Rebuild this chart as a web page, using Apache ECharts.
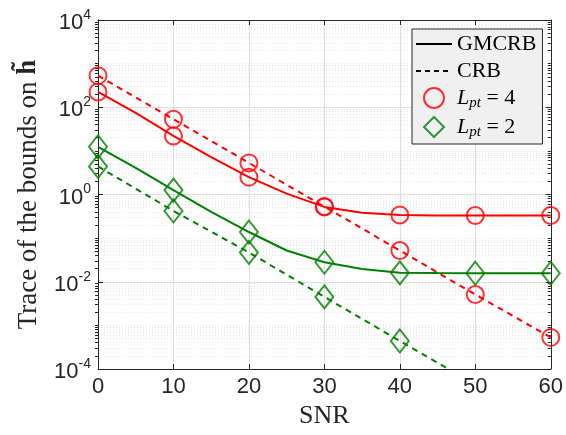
<!DOCTYPE html>
<html>
<head>
<meta charset="utf-8">
<title>Trace of the bounds</title>
<script src="https://cdn.jsdelivr.net/npm/echarts@6/dist/echarts.min.js"></script>
<style>html,body{margin:0;padding:0;background:#fff}#main{width:566px;height:435px}</style>
</head>
<body>
<div id="main"></div>
<script>
// SNR grid (dB) of the curves, markers are drawn every 10 dB
var snrLine = [0, 5, 10, 15, 20, 25, 30, 35, 40, 45, 50, 55, 60];
var snrMark = [0, 10, 20, 30, 40, 50, 60];
// GMCRB at every 5 dB
var gmcrbL4 = [224, 74, 22, 7.2, 2.5, 1.05, 0.52, 0.38, 0.34, 0.33, 0.33, 0.33, 0.33];
var gmcrbL2 = [12.4, 4.1, 1.26, 0.40, 0.138, 0.052, 0.028, 0.0195, 0.016, 0.0158, 0.0157, 0.0157, 0.0157];
// CRB, every 10 dB
var crbL4 = [530, 53, 5.3, 0.53, 0.052, 0.0051, 0.00053];
var crbL2 = [4.4, 0.42, 0.047, 0.0045, 0.00044, 0.000044, 0.0000044];
var yTicks = [1e-4, 1e-2, 1, 1e2, 1e4];

// minor ticks of the log axis: 2..9 x 10^k and the odd decades
var yMinor = [];
for (var k = -4; k < 4; k++) {
    for (var m = 1; m < 10; m++) {
        if (m === 1 && (k % 2 === 0)) continue;
        yMinor.push(Number((m * Math.pow(10, k)).toPrecision(3)));
    }
}

function pairs(xs, ys) {
    return xs.map(function (x, i) { return [x, ys[i]]; });
}
function marks(ys) {
    // keep the values that fall on the 10 dB markers
    return snrLine.map(function (x, i) { return [x, ys[i]]; })
        .filter(function (p) { return p[0] % 10 === 0; });
}

var axisCol = '#262626';
var sans = 'Liberation Sans';
var serif = 'Liberation Serif';

var myChart = echarts.init(document.getElementById('main'), null, {renderer: 'canvas'});
var option = {
    backgroundColor: '#fff',
    animation: false,
    grid: {left: 98, right: 14, top: 20, bottom: 66, show: false},
    legend: {
        orient: 'vertical',
        left: 412, top: 29,
        data: ['GMCRB', 'CRB', 'L4', {name: 'L2', icon: 'path://M9,0L18,9L9,18L0,9Z'}],
        backgroundColor: '#f0f0f0',
        borderColor: '#262626',
        borderWidth: 1,
        borderRadius: 0,
        padding: [4, 6, 4, 3],
        itemGap: 5,
        itemWidth: 36,
        itemHeight: 20,
        selectedMode: false,
        symbolKeepAspect: true,
        textStyle: {
            fontFamily: serif, fontSize: 22, color: '#000',
            rich: {
                i: {fontFamily: serif, fontStyle: 'italic', fontSize: 22, color: '#000'},
                s: {fontFamily: serif, fontStyle: 'italic', fontSize: 15, color: '#000', padding: [11, 0, 0, 0]},
                n: {fontFamily: serif, fontSize: 22, color: '#000'}
            }
        },
        formatter: function (name) {
            if (name === 'L4') return '{i|L}{s|pt}{n| = 4}';
            if (name === 'L2') return '{i|L}{s|pt}{n| = 2}';
            return name;
        }
    },
    xAxis: [{
        type: 'value', min: 0, max: 60, interval: 10,
        name: 'SNR', nameLocation: 'middle', nameGap: 30,
        nameTextStyle: {fontFamily: serif, fontSize: 26, color: axisCol},
        axisLine: {show: true, lineStyle: {color: axisCol, width: 1}},
        axisTick: {show: true, inside: true, length: 5, lineStyle: {color: axisCol}},
        axisLabel: {fontFamily: sans, fontSize: 22, color: axisCol, margin: 7},
        splitLine: {show: true, lineStyle: {color: '#dfdfdf', width: 1}}
    }, {
        type: 'value', min: 0, max: 60, interval: 10, position: 'top',
        axisLine: {show: true, onZero: false, lineStyle: {color: axisCol, width: 1}},
        axisTick: {show: true, inside: true, length: 5, lineStyle: {color: axisCol}},
        axisLabel: {show: false},
        splitLine: {show: false}
    }],
    yAxis: [{
        type: 'log', min: 1e-4, max: 1e4, logBase: 10,
        name: 'Trace of the bounds on {b|h\u0303}',
        nameLocation: 'middle', nameGap: 56,
        nameTextStyle: {
            fontFamily: serif, fontSize: 27, color: axisCol,
            rich: {b: {fontFamily: serif, fontSize: 27, fontWeight: 'bold', color: axisCol}}
        },
        axisLine: {show: true, lineStyle: {color: axisCol, width: 1}},
        axisTick: {show: true, inside: true, length: 5, customValues: yTicks, lineStyle: {color: axisCol}},
        axisLabel: {
            customValues: yTicks,
            margin: 7,
            formatter: function (v) {
                var e = Math.round(Math.log10(v));
                return '{b|10}{e|' + e + '}';
            },
            rich: {
                b: {fontFamily: sans, fontSize: 22, color: axisCol, padding: [6, 0, 0, 0]},
                e: {fontFamily: sans, fontSize: 14, color: axisCol, padding: [0, 0, 10, 0]}
            }
        },
        splitLine: {show: true, lineStyle: {color: '#dfdfdf', width: 1}}
    }, {
        type: 'log', min: 1e-4, max: 1e4, logBase: 10,
        axisLine: {show: false},
        axisTick: {show: true, inside: true, length: 3, customValues: yMinor, lineStyle: {color: axisCol}},
        axisLabel: {show: false},
        splitLine: {show: true, lineStyle: {color: '#e4e4e4', width: 1, type: [1, 2]}}
    }, {
        type: 'log', min: 1e-4, max: 1e4, logBase: 10, position: 'right',
        axisLine: {show: true, onZero: false, lineStyle: {color: axisCol, width: 1}},
        axisTick: {show: true, inside: true, length: 5, customValues: yTicks, lineStyle: {color: axisCol}},
        axisLabel: {show: false},
        splitLine: {show: false}
    }, {
        type: 'log', min: 1e-4, max: 1e4, logBase: 10, position: 'right',
        axisLine: {show: false},
        axisTick: {show: true, inside: true, length: 3, customValues: yMinor, lineStyle: {color: axisCol}},
        axisLabel: {show: false},
        splitLine: {show: false}
    }],
    series: [
        // legend-only entries for the line styles (symbol kept invisible)
        {name: 'GMCRB', type: 'line', data: [], symbol: 'circle',
            itemStyle: {color: 'rgba(0,0,0,0)', borderWidth: 0},
            lineStyle: {color: '#000', width: 1.6}},
        {name: 'CRB', type: 'line', data: [], symbol: 'circle',
            itemStyle: {color: 'rgba(0,0,0,0)', borderWidth: 0},
            lineStyle: {color: '#000', width: 1.6, type: [5, 4]}},
        {name: 'gm4', type: 'line', data: pairs(snrLine, gmcrbL4), symbol: 'none', silent: true,
            lineStyle: {color: '#ff0000', width: 2}},
        {name: 'crb4', type: 'line', data: pairs(snrMark, crbL4), symbol: 'none', silent: true,
            lineStyle: {color: '#ff0000', width: 2, type: [6, 5]}},
        {name: 'gm2', type: 'line', data: pairs(snrLine, gmcrbL2), symbol: 'none', silent: true,
            lineStyle: {color: '#008000', width: 2}},
        {name: 'crb2', type: 'line', data: pairs(snrMark, crbL2), symbol: 'none', silent: true,
            lineStyle: {color: '#008000', width: 2, type: [6, 5]}},
        {name: 'L4', type: 'scatter', symbol: 'circle', symbolSize: 17,
            data: marks(gmcrbL4).concat(pairs(snrMark, crbL4)),
            itemStyle: {color: 'rgba(0,0,0,0)', borderColor: '#ff0000', borderWidth: 2}},
        {name: 'L2', type: 'scatter', symbol: 'diamond', symbolSize: [18, 23],
            data: marks(gmcrbL2).concat(pairs(snrMark, crbL2)),
            itemStyle: {color: 'rgba(0,0,0,0)', borderColor: '#008000', borderWidth: 2}}
    ]
};
myChart.setOption(option);
</script>
</body>
</html>
